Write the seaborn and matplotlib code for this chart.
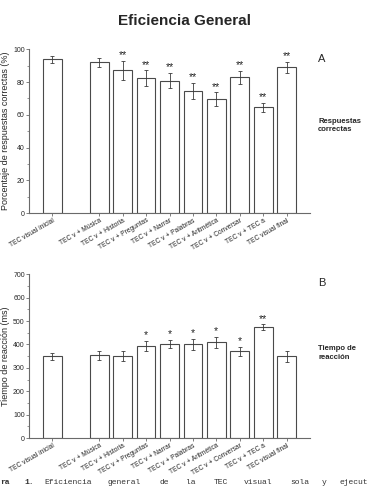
import pandas as pd
import seaborn as sns
import matplotlib.pyplot as plt
from matplotlib.ticker import MultipleLocator

# Conditions (a blank slot after the first one)
conditions = ["TEC visual inicial", "TEC v + Música", "TEC v + Historia",
              "TEC v + Preguntas", "TEC v + Narrar", "TEC v + Palabras",
              "TEC v + Aritmética", "TEC v + Conversar", "TEC v + TEC a",
              "TEC visual final"]
order = [conditions[0], " "] + conditions[1:]

# Panel A: % correct answers
acc_mean = [93.9, 92.0, 87.2, 82.3, 80.8, 74.5, 69.4, 82.9, 64.6, 89.0]
acc_err = [2.3, 2.9, 5.9, 4.8, 4.6, 4.9, 4.3, 3.8, 2.6, 3.4]
acc_sig = ["", "", "**", "**", "**", "**", "**", "**", "**", "**"]

# Panel B: reaction time (ms)
rt_mean = [349, 353, 352, 393, 402, 401, 409, 371, 473, 349]
rt_err = [16, 18, 22, 21, 19, 24, 24, 19, 13, 25]
rt_sig = ["", "", "", "*", "*", "*", "*", "*", "**", ""]

sns.set_style("ticks")
plt.rcParams["font.family"] = ["Liberation Sans", "DejaVu Sans"]

fig = plt.figure(figsize=(3.69, 4.97), dpi=100)
ax_a = fig.add_axes([0.0786, 0.5714, 0.7615, 0.3294])
ax_b = fig.add_axes([0.0786, 0.1187, 0.7615, 0.3294])

line_col = "#6a6a6a"


def panel(ax, means, errs, sigs, ymax, ystep, ylabel):
    df = pd.DataFrame({"cond": conditions, "value": means})
    sns.barplot(data=df, x="cond", y="value", order=order, ax=ax,
                color="white", edgecolor="#4a4a4a", linewidth=0.8,
                width=0.8, errorbar=None)
    pos = [order.index(c) for c in conditions]
    ax.errorbar(pos, means, yerr=errs, fmt="none", ecolor="#3a3a3a",
                elinewidth=0.6, capsize=1.3, capthick=0.6)
    for p, m, e, s in zip(pos, means, errs, sigs):
        if s:
            ax.annotate(s, xy=(p, m + e), xytext=(0, 0.5),
                        textcoords="offset points", ha="center",
                        va="bottom", fontsize=7.5, color="#222222")
    ax.set_xlim(-1, 11)
    ax.set_ylim(0, ymax)
    ax.yaxis.set_major_locator(MultipleLocator(ystep))
    ax.yaxis.set_minor_locator(MultipleLocator(ystep / 2))
    ax.set_xticks(pos)
    ax.set_xticklabels(conditions, rotation=30, ha="right",
                       rotation_mode="anchor", fontsize=4.8)
    ax.tick_params(axis="y", labelsize=5, length=2, width=0.6,
                   color=line_col, pad=1)
    ax.tick_params(axis="y", which="minor", length=1.2, width=0.5,
                   color=line_col)
    ax.tick_params(axis="x", length=2, width=0.6, color=line_col, pad=1)
    ax.set_xlabel("")
    ax.set_ylabel(ylabel, fontsize=6.5, labelpad=2)
    sns.despine(ax=ax)
    for sp in ("left", "bottom"):
        ax.spines[sp].set_color(line_col)
        ax.spines[sp].set_linewidth(0.8)


panel(ax_a, acc_mean, acc_err, acc_sig, 100, 20,
      "Porcentaje de respuestas correctas (%)")
panel(ax_b, rt_mean, rt_err, rt_sig, 700, 100,
      "Tiempo de reacción (ms)")

fig.text(0.5, 0.958, "Eficiencia General", ha="center", va="center",
         fontsize=11, fontweight="bold")
fig.text(0.862, 0.881, "A", fontsize=8, va="center")
fig.text(0.862, 0.747, "Respuestas\ncorrectas", fontsize=5.5,
         fontweight="bold", va="center", linespacing=1.3)
fig.text(0.862, 0.431, "B", fontsize=8, va="center")
fig.text(0.862, 0.290, "Tiempo de\nreacción", fontsize=5.5,
         fontweight="bold", va="center", linespacing=1.3)

# Caption below the figure (cropped on the left in the source)
caption_words = ["ra", "1.", "Eficiencia", "general", "de", "la", "TEC",
                 "visual", "sola", "y", "ejecut"]
caption_x = [0, 24, 44, 108, 160, 186, 214, 244, 290, 322, 368]
for i, (w, x) in enumerate(zip(caption_words, caption_x)):
    last = i == len(caption_words) - 1
    fig.text(x / 369, 1 - 483 / 497, w, family="Liberation Mono",
             fontsize=5.8, va="center", color="#333333",
             ha="right" if last else "left",
             fontweight="bold" if i < 2 else "normal")

fig.savefig("out.png", dpi=100)
